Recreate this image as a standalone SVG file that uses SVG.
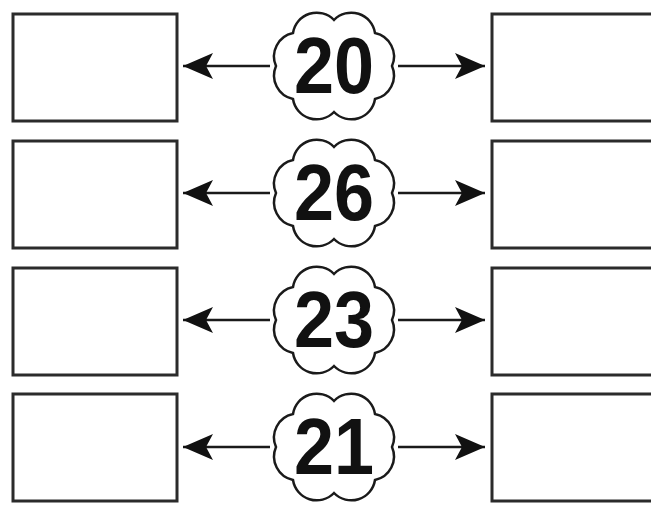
<svg xmlns="http://www.w3.org/2000/svg" width="651" height="506" viewBox="0 0 651 506">
<defs>
<style>
.box{fill:#fff;stroke:#2b2b2b;stroke-width:3}
.cloud{fill:#fff;stroke:#1a1a1a;stroke-width:2.5}
.num{font-family:"Liberation Sans",Arial,sans-serif;font-weight:bold;font-size:80px;fill:#111;text-anchor:middle}
.conn{stroke:#1a1a1a;stroke-width:2.5;fill:none;marker-end:url(#ah)}
</style>
<marker id="ah" markerUnits="userSpaceOnUse" markerWidth="32" markerHeight="28" refX="30" refY="13" orient="auto">
<path d="M0,0 L30,13 L0,26 L7,13 Z" fill="#111"/>
</marker>
<path id="cl" d="M334,20 A24,24 0 0 1 375,33 A24,24 0 0 1 392,66 A24,24 0 0 1 375,99 A24,24 0 0 1 334,112 A24,24 0 0 1 293,99 A24,24 0 0 1 276,66 A24,24 0 0 1 293,33 A24,24 0 0 1 334,20 Z"/>
</defs>
<rect width="651" height="506" fill="#fff"/>
<g id="connectors">
<line class="conn" x1="270" y1="66" x2="183" y2="66"/>
<line class="conn" x1="398" y1="66" x2="485" y2="66"/>
<line class="conn" x1="270" y1="193" x2="183" y2="193"/>
<line class="conn" x1="398" y1="193" x2="485" y2="193"/>
<line class="conn" x1="270" y1="320" x2="183" y2="320"/>
<line class="conn" x1="398" y1="320" x2="485" y2="320"/>
<line class="conn" x1="270" y1="447" x2="183" y2="447"/>
<line class="conn" x1="398" y1="447" x2="485" y2="447"/>
</g>
<g id="left1"><rect class="box" x="13" y="14" width="164" height="107"/></g>
<g id="right1"><rect class="box" x="492" y="14" width="170" height="107"/></g>
<g id="left2"><rect class="box" x="13" y="141" width="164" height="107"/></g>
<g id="right2"><rect class="box" x="492" y="141" width="170" height="107"/></g>
<g id="left3"><rect class="box" x="13" y="268" width="164" height="107"/></g>
<g id="right3"><rect class="box" x="492" y="268" width="170" height="107"/></g>
<g id="left4"><rect class="box" x="13" y="394" width="164" height="107"/></g>
<g id="right4"><rect class="box" x="492" y="394" width="170" height="107"/></g>
<g id="cloud1"><use href="#cl" class="cloud"/><text class="num" x="334" y="93" textLength="80" lengthAdjust="spacingAndGlyphs">20</text></g>
<g id="cloud2" transform="translate(0,127)"><use href="#cl" class="cloud"/><text class="num" x="334" y="93" textLength="80" lengthAdjust="spacingAndGlyphs">26</text></g>
<g id="cloud3" transform="translate(0,254)"><use href="#cl" class="cloud"/><text class="num" x="334" y="93" textLength="80" lengthAdjust="spacingAndGlyphs">23</text></g>
<g id="cloud4" transform="translate(0,381)"><use href="#cl" class="cloud"/><text class="num" x="334" y="93" textLength="80" lengthAdjust="spacingAndGlyphs">21</text></g>
</svg>
